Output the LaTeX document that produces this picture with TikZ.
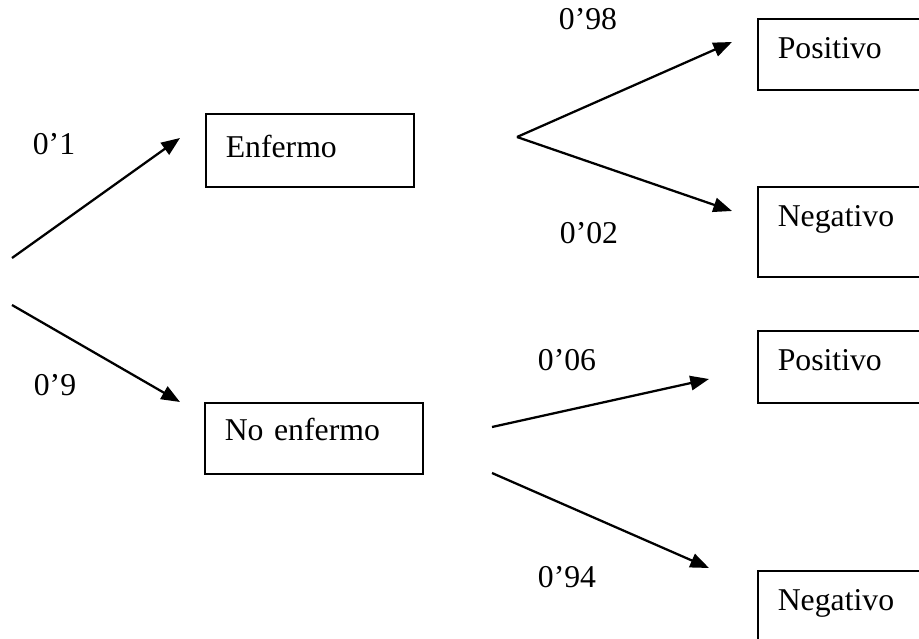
\documentclass[tikz,border=0pt]{standalone}
\usepackage{fontspec}
\setmainfont{Liberation Serif}
\usetikzlibrary{arrows.meta, positioning}

\tikzset{
  caja/.style={draw, line width=0.6pt, anchor=north west, inner xsep=7.5pt, align=left, font=\fontsize{11.9}{14}\selectfont},
  prob/.style={inner sep=0pt, font=\fontsize{11.9}{14}\selectfont},
  flecha/.style={line width=0.85pt, -{Triangle[length=7pt,width=5.4pt]}}
}

\begin{document}
\begin{tikzpicture}[x=0.375pt, y=-0.375pt]
\useasboundingbox (0, 0) rectangle (919, 639);
\clip (0, 0) rectangle (919, 639);
% cajas
\node [caja, text width=63pt, minimum height=27.4pt, text depth=3pt] (enfermo) at (205, 113) {Enfermo};
\node [caja, text width=66.8pt, minimum height=26.6pt, text depth=7pt] (noenfermo) at (204, 402) {No enfermo};
\node [caja, text width=80pt, minimum height=26.6pt, text depth=5pt] (pos1) at (757, 18) {Positivo};
\node [caja, text width=80pt, minimum height=33.8pt, text depth=12pt] (neg1) at (757, 186) {Negativo};
\node [caja, text width=80pt, minimum height=27pt, text depth=5pt] (pos2) at (757, 330) {Positivo};
\node [caja, text width=80pt, minimum height=33.8pt, text depth=12pt] (neg2) at (757, 570) {Negativo};
% puntos de las ramas
\coordinate (ini1) at (12, 258);
\coordinate (ini2) at (12, 305);
\coordinate (fin1) at (180, 138);
\coordinate (fin2) at (180, 402);
\coordinate (rama) at (517, 137);
\coordinate (fin3) at (732, 42);
\coordinate (fin4) at (732, 211);
\coordinate (ini3) at (492, 427);
\coordinate (ini4) at (492, 473);
\coordinate (fin5) at (709, 379);
\coordinate (fin6) at (709, 568);
\draw [flecha] (ini1) -- (fin1);
\draw [flecha] (ini2) -- (fin2);
\draw [flecha] (rama) -- (fin3);
\draw [flecha] (rama) -- (fin4);
\draw [flecha] (ini3) -- (fin5);
\draw [flecha] (ini4) -- (fin6);
% probabilidades
\node [prob] (p1) at (54, 144) {0’1};
\node [prob] (p9) at (55, 385) {0’9};
\node [prob] (p98) at (588, 19) {0’98};
\node [prob] (p02) at (589, 233) {0’02};
\node [prob] (p06) at (567, 360) {0’06};
\node [prob] (p94) at (567, 577) {0’94};
\end{tikzpicture}
\end{document}
